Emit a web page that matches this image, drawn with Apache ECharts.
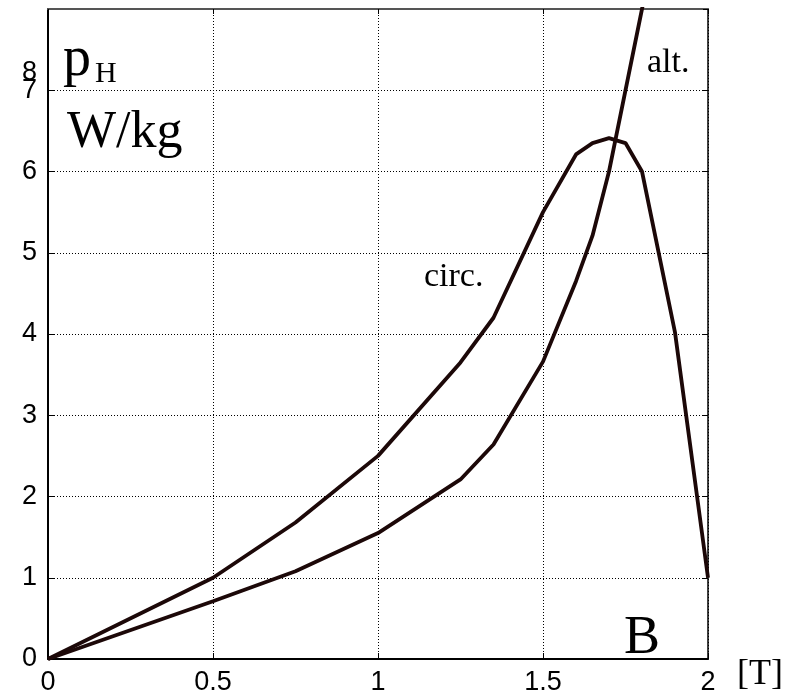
<!DOCTYPE html>
<html>
<head>
<meta charset="utf-8">
<script src="https://cdn.jsdelivr.net/npm/echarts@6/dist/echarts.min.js"></script>
<style>
  html, body { margin: 0; padding: 0; background: #fff; }
  #chart { width: 789px; height: 699px; }
</style>
</head>
<body>
<div id="chart"></div>
<script>
'use strict';
// B [T] vs p_H [W/kg]
const circB = [0, 0.5, 0.75, 1.0, 1.25, 1.35, 1.5, 1.6, 1.65, 1.7, 1.75, 1.8, 1.9, 2.0];
const circP = [0, 1.0, 1.68, 2.5, 3.65, 4.2, 5.5, 6.21, 6.35, 6.41, 6.35, 6.0, 4.02, 1.0];
const altB = [0, 0.5, 0.75, 1.0, 1.25, 1.35, 1.5, 1.6, 1.65, 1.7, 1.75, 1.8, 1.85];
const altP = [0, 0.71, 1.08, 1.55, 2.21, 2.64, 3.66, 4.65, 5.21, 6.0, 7.0, 8.0, 9.0];
const xTicks = [0, 0.5, 1, 1.5, 2];
const yTicks = [0, 1, 2, 3, 4, 5, 6, 7, 8];

const lineColor = '#1c0808';
const serif = '"Liberation Serif", "Times New Roman", serif';
const sans = '"Liberation Sans", Arial, sans-serif';

let dom = document.getElementById('chart');
let myChart = echarts.init(dom, null, { renderer: 'canvas' });

function pairs(xs, ys) {
    return xs.map(function (x, i) { return [x, ys[i]]; });
}

let grid = { left: 48, top: 9, right: 81, bottom: 40 };
let dotted = { show: true, lineStyle: { color: '#000', width: 1, type: [1, 2] } };
let yMin = yTicks[0];
let yMax = yTicks[yTicks.length - 1];

let option = {
    animation: false,
    backgroundColor: '#fff',
    grid: grid,
    xAxis: [{
        type: 'value',
        min: xTicks[0],
        max: xTicks[xTicks.length - 1],
        interval: 0.5,
        axisLine: { show: true, lineStyle: { color: '#000', width: 2 } },
        axisTick: { show: true, inside: true, length: 6, lineStyle: { color: '#000', width: 1 } },
        axisLabel: {
            margin: 10, fontSize: 27, fontFamily: sans, color: '#000',
            formatter: function (v) { return String(v); }
        },
        splitLine: dotted
    }, {
        type: 'value',
        position: 'top',
        min: xTicks[0],
        max: xTicks[xTicks.length - 1],
        interval: 0.5,
        axisLine: { show: true, onZero: false, lineStyle: { color: '#555', width: 2 } },
        axisTick: { show: true, inside: true, length: 5, lineStyle: { color: '#000' } },
        axisLabel: { show: false },
        splitLine: { show: false }
    }],
    yAxis: [{
        type: 'value',
        min: yMin,
        max: yMax,
        interval: 1,
        axisLine: { show: true, lineStyle: { color: '#000', width: 2 } },
        axisTick: { show: true, inside: true, length: 6, lineStyle: { color: '#000', width: 1 } },
        axisLabel: {
            margin: 11, fontSize: 27, fontFamily: sans, color: '#000',
            showMaxLabel: false
        },
        splitLine: dotted
    }, {
        type: 'value',
        position: 'right',
        min: yMin,
        max: yMax,
        interval: 1,
        axisLine: { show: true, onZero: false, lineStyle: { color: '#000', width: 1.5 } },
        axisTick: { show: true, inside: true, length: 5, lineStyle: { color: '#000' } },
        axisLabel: { show: false },
        splitLine: { show: false }
    }, {
        // the top "8" label, printed low as in the original plot
        type: 'value',
        position: 'left',
        min: yMin,
        max: yMax,
        interval: 1,
        axisLine: { show: false },
        axisTick: { show: false },
        splitLine: { show: false },
        axisLabel: {
            margin: 11, fontSize: 27, fontFamily: sans, color: '#000',
            showMaxLabel: true,
            formatter: function (v) { return v === yMax ? '{top|' + v + '}' : ''; },
            rich: { top: { fontSize: 27, fontFamily: sans, color: '#000', padding: [128, 0, 0, 0] } }
        }
    }],
    series: [{
        name: 'circ.',
        type: 'line',
        data: pairs(circB, circP),
        showSymbol: false,
        clip: true,
        lineStyle: { color: lineColor, width: 3.8 }
    }, {
        name: 'alt.',
        type: 'line',
        data: pairs(altB, altP),
        showSymbol: false,
        clip: true,
        lineStyle: { color: lineColor, width: 3.8 }
    }],
    graphic: [
        { type: 'text', left: 63, top: 32, style: { text: 'p', font: '56px ' + serif, fill: '#000' } },
        { type: 'text', left: 95, top: 59, style: { text: 'H', font: '30px ' + serif, fill: '#000' } },
        { type: 'text', left: 67, top: 107, style: { text: 'W/kg', font: '52px ' + serif, fill: '#000' } },
        { type: 'text', left: 424, top: 260, style: { text: 'circ.', font: '34px ' + serif, fill: '#000' } },
        { type: 'text', left: 647, top: 46, style: { text: 'alt.', font: '34px ' + serif, fill: '#000' } },
        { type: 'text', left: 624, top: 612, style: { text: 'B', font: '54px ' + serif, fill: '#000' } },
        { type: 'text', left: 737, top: 657, style: { text: '[T]', font: '36px ' + serif, fill: '#000' } }
    ]
};

myChart.setOption(option, true);
</script>
</body>
</html>
